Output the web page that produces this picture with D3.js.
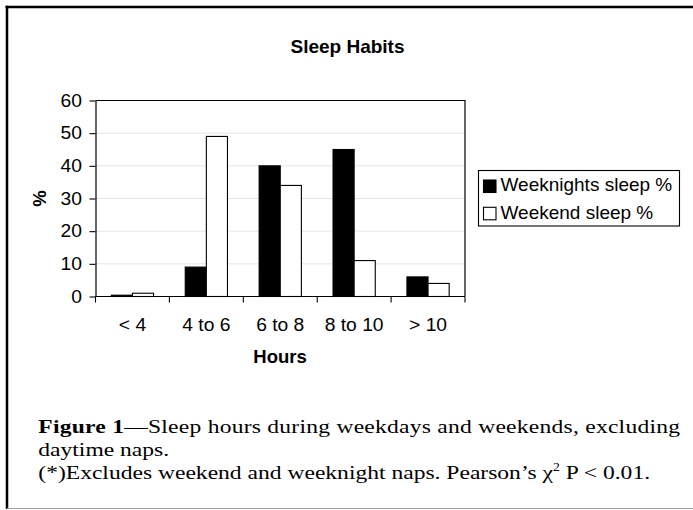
<!DOCTYPE html>
<html>
<head>
<meta charset="utf-8">
<script src="https://cdn.jsdelivr.net/npm/d3@7"></script>
<style>
  body { margin: 0; background: #fff; }
  svg { display: block; }
</style>
</head>
<body>
<div class="canva-chart"></div>
<script>
// data
const categories = ["< 4", "4 to 6", "6 to 8", "8 to 10", "> 10"];
const seriesNames = ["Weeknights sleep %", "Weekend sleep %"];
const weeknights = [0.4, 9, 40, 45, 6];
const weekend = [1, 49, 34, 11, 4];
const yTicks = [0, 10, 20, 30, 40, 50, 60];
const seriesFill = ["#000", "#fff"];

const width = 693;
const height = 510;
const sansX = 1.07;   // the original's regular text is a bit wider than plain Arial
const serifX = 1.19;  // same for the caption

const svg = d3.select(".canva-chart").append("svg")
    .attr("width", width)
    .attr("height", height)
    .style("font-family", "'Liberation Sans', Arial, sans-serif");

// place a text at (x,y) and stretch it horizontally
function place(sel, x, y, sx) {
    return sel.attr("x", 0).attr("y", 0)
        .attr("transform", `translate(${x},${y}) scale(${sx},1)`);
}

// frame around the whole figure
svg.append("line")
    .attr("x1", 5.5).attr("x2", width).attr("y1", 7).attr("y2", 7)
    .attr("stroke", "#000").attr("stroke-width", 2.5);
svg.append("line")
    .attr("x1", 7).attr("x2", 7).attr("y1", 5.8).attr("y2", 509)
    .attr("stroke", "#000").attr("stroke-width", 2.5);
svg.append("line")
    .attr("x1", 7).attr("x2", width).attr("y1", 508.5).attr("y2", 508.5)
    .attr("stroke", "#a0a0a0").attr("stroke-width", 1);

// plot area
const plot = {left: 95.5, right: 465, top: 100.5, bottom: 296.5};

const x0 = d3.scaleBand()
    .domain(categories)
    .range([plot.left, plot.right])
    .padding(0);

const x1 = d3.scaleBand()
    .domain(seriesNames)
    .range([0, x0.bandwidth()])
    .paddingInner(0)
    .paddingOuter(0.75);

const y = d3.scaleLinear()
    .domain([0, 60])
    .range([plot.bottom, plot.top]);

// gridlines
svg.append("g")
    .selectAll("line")
    .data(yTicks.filter(d => d > 0 && d < 60))
    .join("line")
    .attr("x1", plot.left).attr("x2", plot.right)
    .attr("y1", d => y(d)).attr("y2", d => y(d))
    .attr("stroke", "#e4e4e4")
    .attr("stroke-width", 1);

// plot border (top + right)
svg.append("path")
    .attr("d", `M${plot.left},${plot.top}H${plot.right}V${plot.bottom}`)
    .attr("fill", "none")
    .attr("stroke", "#000")
    .attr("stroke-width", 1.2);

// bars
const rows = categories.map((c, i) => ({cat: c, values: [weeknights[i], weekend[i]]}));

svg.append("g")
    .selectAll("g")
    .data(rows)
    .join("g")
    .attr("transform", d => `translate(${x0(d.cat)},0)`)
    .selectAll("rect")
    .data(d => d.values.map((v, j) => ({name: seriesNames[j], value: v, j: j})))
    .join("rect")
    .attr("x", d => x1(d.name))
    .attr("width", x1.bandwidth())
    .attr("y", d => y(d.value))
    .attr("height", d => y(0) - y(d.value))
    .attr("fill", d => seriesFill[d.j])
    .attr("stroke", "#000")
    .attr("stroke-width", 1.1);

// y axis
const yAxis = svg.append("g")
    .attr("transform", `translate(${plot.left},0)`)
    .call(d3.axisLeft(y).tickValues(yTicks).tickSize(6).tickPadding(7.5).tickSizeOuter(0));
yAxis.select(".domain").attr("stroke", "#000").attr("stroke-width", 1.2);
yAxis.selectAll(".tick line").attr("stroke", "#000").attr("stroke-width", 1.1);
yAxis.selectAll("text")
    .attr("font-size", 18)
    .attr("font-family", "'Liberation Sans', Arial, sans-serif")
    .attr("fill", "#000")
    .attr("x", -13.5 / sansX)
    .attr("transform", `scale(${sansX},1)`);

// x axis: ticks sit on category boundaries
const xAxis = svg.append("g")
    .attr("transform", `translate(0,${plot.bottom})`);
xAxis.append("line")
    .attr("x1", plot.left).attr("x2", plot.right)
    .attr("stroke", "#000").attr("stroke-width", 1.2);
xAxis.selectAll(".xtick")
    .data(categories.concat(["end"]))
    .join("line")
    .attr("class", "xtick")
    .attr("x1", (d, i) => i < categories.length ? x0(d) : plot.right)
    .attr("x2", (d, i) => i < categories.length ? x0(d) : plot.right)
    .attr("y1", 0).attr("y2", 6)
    .attr("stroke", "#000").attr("stroke-width", 1.1);
xAxis.selectAll(".xlabel")
    .data(categories)
    .join("text")
    .attr("class", "xlabel")
    .attr("text-anchor", "middle")
    .attr("font-size", 18)
    .text(d => d)
    .each(function(d) { place(d3.select(this), x0(d) + x0.bandwidth() / 2, 34.3, sansX); });

// titles
svg.append("text")
    .attr("x", 347.5).attr("y", 52.7)
    .attr("text-anchor", "middle")
    .attr("font-weight", "bold")
    .attr("font-size", 19)
    .text("Sleep Habits");

svg.append("text")
    .attr("x", 280).attr("y", 362.7)
    .attr("text-anchor", "middle")
    .attr("font-weight", "bold")
    .attr("font-size", 18.5)
    .text("Hours");

svg.append("text")
    .attr("transform", "translate(46,198.5) rotate(-90)")
    .attr("text-anchor", "middle")
    .attr("font-weight", "bold")
    .attr("font-size", 18.5)
    .text("%");

// legend
const legend = svg.append("g").attr("transform", "translate(478.5,170.5)");
legend.append("rect")
    .attr("width", 201).attr("height", 55.5)
    .attr("fill", "#fff").attr("stroke", "#000").attr("stroke-width", 1.1);
const item = legend.selectAll(".item")
    .data(seriesNames)
    .join("g")
    .attr("class", "item")
    .attr("transform", (d, i) => `translate(0,${i * 27.3})`);
item.append("rect")
    .attr("x", 5).attr("y", 9.5)
    .attr("width", 12.5).attr("height", 12.5)
    .attr("fill", (d, i) => seriesFill[i])
    .attr("stroke", "#000").attr("stroke-width", 1.1);
item.append("text")
    .attr("font-size", 18)
    .text(d => d)
    .each(function() { place(d3.select(this), 22, 20.7, 171 / 162); });

// caption under the chart
const caption = svg.append("g")
    .attr("font-family", "'Liberation Serif', 'Times New Roman', serif")
    .attr("font-size", 19.8)
    .attr("fill", "#000");

const line1 = place(caption.append("text"), 38.3, 433.3, serifX)
    .attr("textLength", 641.7 / serifX)
    .attr("lengthAdjust", "spacing");
line1.append("tspan").attr("font-weight", "bold").text("Figure 1");
line1.append("tspan").text("\u2014Sleep hours during weekdays and weekends, excluding");

place(caption.append("text"), 38.3, 456, serifX)
    .text("daytime naps.");

const line3 = place(caption.append("text"), 38.3, 478.7, serifX);
line3.append("tspan").text("(*)Excludes weekend and weeknight naps. Pearson\u2019s \u03c7");
line3.append("tspan").attr("font-size", 11.5).attr("dy", -7.5).text("2");
line3.append("tspan").attr("dy", 7.5).text(" P < 0.01.");
</script>
</body>
</html>
